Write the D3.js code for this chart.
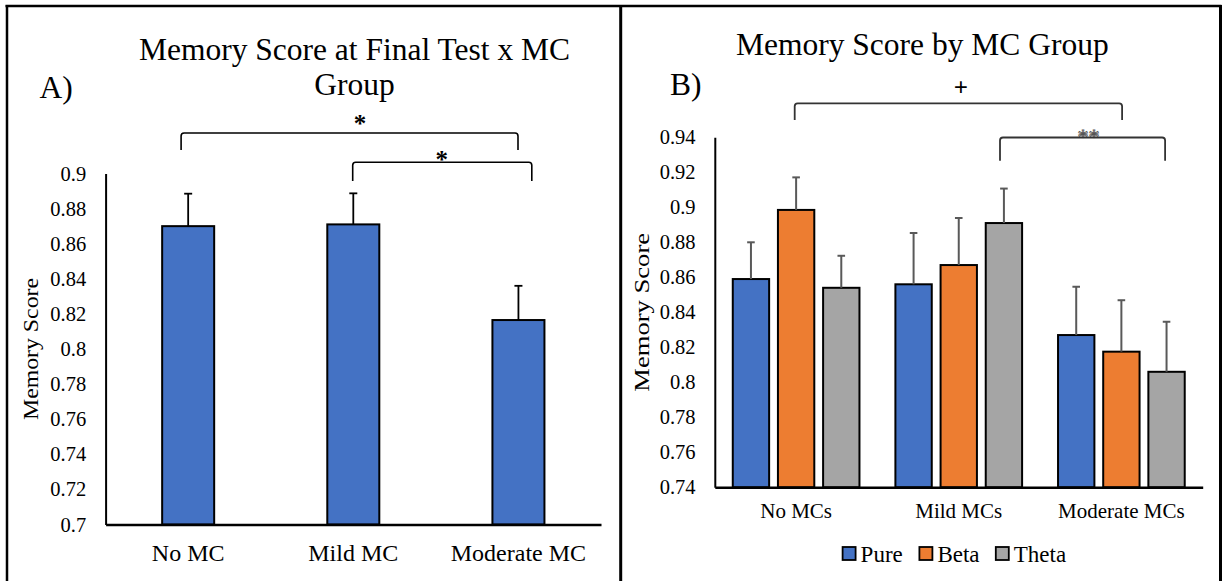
<!DOCTYPE html>
<html><head><meta charset="utf-8">
<script src="https://cdn.jsdelivr.net/npm/d3@7"></script>
<style>body{margin:0;background:#fff}svg{display:block}svg text{font-family:"Liberation Serif","Times New Roman",serif !important}</style>
</head><body><svg id="c" width="1222" height="581"></svg>
<script>
// ---- Panel A data ----
const catsA = ["No MC", "Mild MC", "Moderate MC"];
const valsA = [0.870, 0.871, 0.8165];
const errA = [0.0185, 0.0177, 0.0195];
const ticksA = [0.7, 0.72, 0.74, 0.76, 0.78, 0.8, 0.82, 0.84, 0.86, 0.88, 0.9];

// ---- Panel B data ----
const catsB = ["No MCs", "Mild MCs", "Moderate MCs"];
const seriesB = ["Pure", "Beta", "Theta"];
const pureB = [0.859, 0.856, 0.827];
const betaB = [0.8985, 0.867, 0.8175];
const thetaB = [0.854, 0.891, 0.806];
const pureErrB = [0.021, 0.0293, 0.0276];
const betaErrB = [0.0186, 0.0269, 0.0294];
const thetaErrB = [0.0183, 0.0197, 0.0286];
const ticksB = [0.74, 0.76, 0.78, 0.8, 0.82, 0.84, 0.86, 0.88, 0.9, 0.92, 0.94];
const colorsB = ["#4472C4", "#ED7D31", "#A5A5A5"];

const svg = d3.select("#c");
const fmt = d => String(+d.toFixed(2));

// ---- Borders ----
svg.append("line").attr("x1", 5.5).attr("x2", 1221.5).attr("y1", 6).attr("y2", 6).attr("stroke", "#000").attr("stroke-width", 2.5);
svg.append("line").attr("x1", 7).attr("x2", 7).attr("y1", 5).attr("y2", 581).attr("stroke", "#000").attr("stroke-width", 2.5);
svg.append("line").attr("x1", 620.7).attr("x2", 620.7).attr("y1", 5).attr("y2", 581).attr("stroke", "#000").attr("stroke-width", 3);
svg.append("line").attr("x1", 1220.5).attr("x2", 1220.5).attr("y1", 5).attr("y2", 581).attr("stroke", "#000").attr("stroke-width", 3);

function bracket(g, x1, x2, yTop, yBot, color, w) {
  const r = 3;
  g.append("path")
    .attr("d", `M${x1},${yBot} L${x1},${yTop + r} Q${x1},${yTop} ${x1 + r},${yTop} L${x2 - r},${yTop} Q${x2},${yTop} ${x2},${yTop + r} L${x2},${yBot}`)
    .attr("fill", "none").attr("stroke", color).attr("stroke-width", w);
}

// ================= Panel A =================
const gA = svg.append("g");
const yA = d3.scaleLinear().domain([0.7, 0.9]).range([524.5, 173.5]);
const xA = d3.scaleBand().domain(catsA).range([105.6, 601]).padding(0);
const bwA = xA.step() * 0.315;

gA.append("text").attr("x", 354.5).attr("y", 60).attr("text-anchor", "middle")
  .attr("font-size", 31.5).text("Memory Score at Final Test x MC");
gA.append("text").attr("x", 354.5).attr("y", 94.5).attr("text-anchor", "middle")
  .attr("font-size", 31.5).text("Group");
gA.append("text").attr("x", 39.5).attr("y", 97.5).attr("font-size", 31.5).text("A)");

gA.selectAll("rect.bar").data(catsA).join("rect").attr("class", "bar")
  .attr("x", d => xA(d) + xA.bandwidth() / 2 - bwA / 2)
  .attr("width", bwA)
  .attr("y", (d, i) => yA(valsA[i]))
  .attr("height", (d, i) => yA(0.7) - yA(valsA[i]))
  .attr("fill", "#4472C4").attr("stroke", "#000").attr("stroke-width", 2);

catsA.forEach((c, i) => {
  const cx = xA(c) + xA.bandwidth() / 2;
  gA.append("line").attr("x1", cx).attr("x2", cx).attr("y1", yA(valsA[i])).attr("y2", yA(valsA[i] + errA[i]))
    .attr("stroke", "#000").attr("stroke-width", 1.8);
  gA.append("line").attr("x1", cx - 4).attr("x2", cx + 4).attr("y1", yA(valsA[i] + errA[i])).attr("y2", yA(valsA[i] + errA[i]))
    .attr("stroke", "#000").attr("stroke-width", 1.8);
});

const axYA = gA.append("g").attr("transform", "translate(105.6,0)")
  .call(d3.axisLeft(yA).tickValues(ticksA).tickFormat(fmt).tickSize(0).tickSizeOuter(0).tickPadding(19.4));
axYA.attr("font-family", null);
axYA.select(".domain").attr("stroke", "#000").attr("stroke-width", 2);
axYA.selectAll("text").attr("font-size", 20.5).attr("fill", "#000");

const axXA = gA.append("g").attr("transform", "translate(0,524.5)")
  .call(d3.axisBottom(xA).tickSize(0).tickSizeOuter(0).tickPadding(19.2));
axXA.attr("font-family", null);
axXA.select(".domain").attr("stroke", "#000").attr("stroke-width", 2.5);
axXA.selectAll("text").attr("font-size", 24).attr("fill", "#000");

gA.append("text").attr("transform", "translate(30.6,349) rotate(-90)")
  .attr("text-anchor", "middle").attr("dy", "0.35em").attr("font-size", 21)
  .attr("textLength", 142).attr("lengthAdjust", "spacingAndGlyphs").text("Memory Score");

bracket(gA, 181.1, 518, 133, 150, "#000", 1.6);
bracket(gA, 352.7, 531.8, 162.3, 181, "#000", 1.6);
gA.append("text").attr("x", 360).attr("y", 132).attr("text-anchor", "middle").attr("font-size", 25).attr("font-weight", "bold").text("*");
gA.append("text").attr("x", 441.7).attr("y", 168).attr("text-anchor", "middle").attr("font-size", 25).attr("font-weight", "bold").text("*");

// ================= Panel B =================
const gB = svg.append("g");
const yB = d3.scaleLinear().domain([0.74, 0.94]).range([487.3, 137.3]);
const xB = d3.scaleBand().domain(catsB).range([714.8, 1202.7]).padding(0);
const groupW = xB.step() * 0.779;
const xSub = d3.scaleBand().domain(seriesB).range([0, groupW]).paddingInner(0.195).paddingOuter(0);
const valsB = [pureB, betaB, thetaB];
const errsB = [pureErrB, betaErrB, thetaErrB];

gB.append("text").attr("x", 922.3).attr("y", 55).attr("text-anchor", "middle")
  .attr("font-size", 31.5).text("Memory Score by MC Group");
gB.append("text").attr("x", 669.9).attr("y", 94.5).attr("font-size", 31.5).text("B)");

seriesB.forEach((s, si) => {
  catsB.forEach((c, ci) => {
    const x0 = xB(c) + xB.bandwidth() / 2 - groupW / 2 + xSub(s);
    const v = valsB[si][ci];
    gB.append("rect").attr("x", x0).attr("width", xSub.bandwidth())
      .attr("y", yB(v)).attr("height", yB(0.74) - yB(v))
      .attr("fill", colorsB[si]).attr("stroke", "#000").attr("stroke-width", 2);
  });
});
seriesB.forEach((s, si) => {
  catsB.forEach((c, ci) => {
    const cx = xB(c) + xB.bandwidth() / 2 - groupW / 2 + xSub(s) + xSub.bandwidth() / 2;
    const v = valsB[si][ci], e = errsB[si][ci];
    gB.append("line").attr("x1", cx).attr("x2", cx).attr("y1", yB(v)).attr("y2", yB(v + e))
      .attr("stroke", "#595959").attr("stroke-width", 2);
    gB.append("line").attr("x1", cx - 3.8).attr("x2", cx + 3.8).attr("y1", yB(v + e)).attr("y2", yB(v + e))
      .attr("stroke", "#595959").attr("stroke-width", 2);
  });
});

const axYB = gB.append("g").attr("transform", "translate(714.8,0)")
  .call(d3.axisLeft(yB).tickValues(ticksB).tickFormat(fmt).tickSize(0).tickSizeOuter(0).tickPadding(19.2));
axYB.attr("font-family", null);
axYB.select(".domain").attr("stroke", "#000").attr("stroke-width", 2);
axYB.selectAll("text").attr("font-size", 20.5).attr("fill", "#000");

const axXB = gB.append("g").attr("transform", "translate(0,487.3)")
  .call(d3.axisBottom(xB).tickSize(0).tickSizeOuter(0).tickPadding(16));
axXB.attr("font-family", null);
axXB.select(".domain").attr("stroke", "#000").attr("stroke-width", 2.5);
axXB.selectAll("text").attr("font-size", 21).attr("fill", "#000");

gB.append("text").attr("transform", "translate(641.1,312.3) rotate(-90)")
  .attr("text-anchor", "middle").attr("dy", "0.35em").attr("font-size", 22)
  .attr("textLength", 158.7).attr("lengthAdjust", "spacingAndGlyphs").text("Memory Score");

const legX = [842.6, 919.4, 995.8];
seriesB.forEach((s, si) => {
  gB.append("rect").attr("x", legX[si]).attr("y", 547).attr("width", 13).attr("height", 13)
    .attr("fill", colorsB[si]).attr("stroke", "#000").attr("stroke-width", 1.8);
  gB.append("text").attr("x", legX[si] + 18).attr("y", 561.5).attr("font-size", 23).text(s);
});

gB.append("text").attr("x", 960.9).attr("y", 96).attr("text-anchor", "middle").attr("font-size", 25).attr("font-weight", "bold").text("+");
bracket(gB, 794.7, 1122.1, 103.3, 120, "#333", 1.8);
gB.append("text").attr("x", 1088.5).attr("y", 143.5).attr("text-anchor", "middle").attr("font-size", 22).attr("fill", "#fff").attr("stroke", "#555").attr("stroke-width", 0.8).text("**");
gB.append("rect").attr("x", 1070).attr("y", 138.3).attr("width", 40).attr("height", 8).attr("fill", "#fff");
bracket(gB, 1000, 1165.1, 137.5, 160.7, "#333", 1.8);
</script></body></html>
